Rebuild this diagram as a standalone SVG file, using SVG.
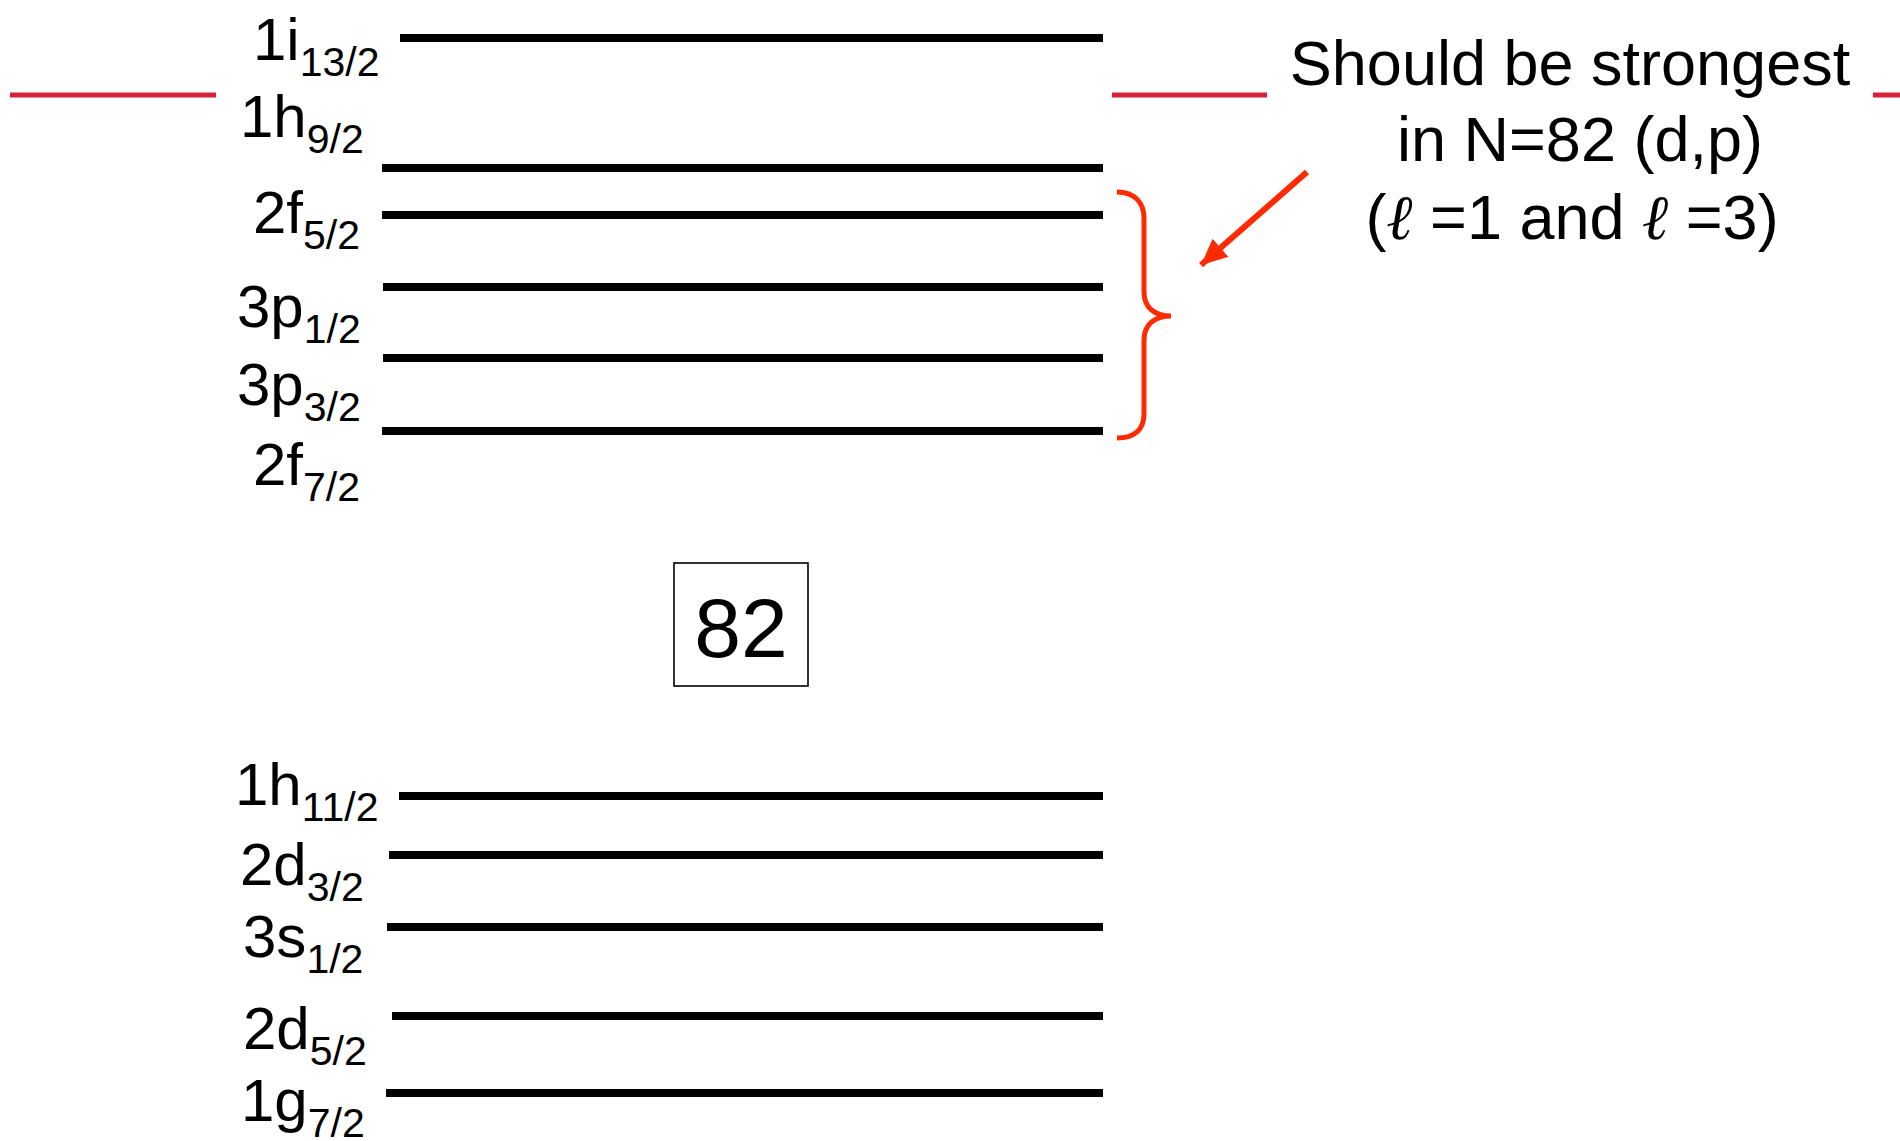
<svg xmlns="http://www.w3.org/2000/svg" width="1900" height="1141" viewBox="0 0 1900 1141">
<defs>
<style>
text{font-family:"Liberation Sans",Arial,sans-serif;fill:#000}
.lbl{font-size:60px}
.sub{font-size:41px}
.lvl{stroke:#000;stroke-width:8;fill:none}
.red{stroke:#d9203a;stroke-width:5;fill:none}
.note{font-size:63px;text-anchor:middle}
.ell{font-family:"Liberation Serif","DejaVu Serif",serif;font-style:italic}
</style>
<marker id="ah" markerUnits="userSpaceOnUse" markerWidth="30" markerHeight="26" refX="26" refY="12" orient="auto">
<path d="M0,0 L26,12 L0,24 Z" fill="#ff2a00"/>
</marker>
</defs>
<rect width="1900" height="1141" fill="#fff"/>
<g id="levels">
<g id="l-1i13"><line class="lvl" x1="400" y1="38" x2="1103" y2="38"/><text class="lbl" x="253" y="60">1i<tspan class="sub" dy="16">13/2</tspan></text></g>
<g id="l-1h9"><line class="lvl" x1="382" y1="168" x2="1103" y2="168"/><text class="lbl" x="240" y="137">1h<tspan class="sub" dy="16">9/2</tspan></text></g>
<g id="l-2f5"><line class="lvl" x1="382" y1="215" x2="1103" y2="215"/><text class="lbl" x="253" y="233">2f<tspan class="sub" dy="16">5/2</tspan></text></g>
<g id="l-3p1"><line class="lvl" x1="383" y1="287" x2="1103" y2="287"/><text class="lbl" x="237" y="327">3p<tspan class="sub" dy="16">1/2</tspan></text></g>
<g id="l-3p3"><line class="lvl" x1="383" y1="358" x2="1103" y2="358"/><text class="lbl" x="237" y="405">3p<tspan class="sub" dy="16">3/2</tspan></text></g>
<g id="l-2f7"><line class="lvl" x1="382" y1="431" x2="1103" y2="431"/><text class="lbl" x="253" y="485">2f<tspan class="sub" dy="16">7/2</tspan></text></g>
<g id="l-1h11"><line class="lvl" x1="399" y1="796" x2="1103" y2="796"/><text class="lbl" x="235" y="805">1h<tspan class="sub" dy="16">11/2</tspan></text></g>
<g id="l-2d3"><line class="lvl" x1="389" y1="855" x2="1103" y2="855"/><text class="lbl" x="240" y="885">2d<tspan class="sub" dy="16">3/2</tspan></text></g>
<g id="l-3s1"><line class="lvl" x1="387" y1="927" x2="1103" y2="927"/><text class="lbl" x="243" y="957">3s<tspan class="sub" dy="16">1/2</tspan></text></g>
<g id="l-2d5"><line class="lvl" x1="392" y1="1016" x2="1103" y2="1016"/><text class="lbl" x="243" y="1049">2d<tspan class="sub" dy="16">5/2</tspan></text></g>
<g id="l-1g7"><line class="lvl" x1="386" y1="1093" x2="1103" y2="1093"/><text class="lbl" x="241" y="1121">1g<tspan class="sub" dy="16">7/2</tspan></text></g>
</g>
<g id="gap82">
<rect x="674" y="563" width="134" height="123" fill="none" stroke="#000" stroke-width="1.6"/>
<text x="741" y="657" font-size="84" text-anchor="middle">82</text>
</g>
<g id="redlines">
<line class="red" x1="10" y1="95" x2="216" y2="95"/>
<line class="red" x1="1112" y1="95" x2="1267" y2="95"/>
<line class="red" x1="1873" y1="95" x2="1900" y2="95"/>
</g>
<g id="note">
<text class="note" x="1570" y="85">Should be strongest</text>
<text class="note" x="1580" y="161">in N=82 (d,p)</text>
<text class="note" x="1572" y="239">(<tspan class="ell">ℓ</tspan> =1 and <tspan class="ell">ℓ</tspan> =3)</text>
</g>
<g id="connectors">
<path d="M1117,192 C1135,192 1144,203 1144,218 L1144,292 C1144,307 1154,316 1171,316 C1154,316 1144,325 1144,340 L1144,414 C1144,429 1135,438 1117,438" fill="none" stroke="#ff2a00" stroke-width="5"/>
<line x1="1307" y1="172" x2="1201" y2="265" stroke="#ff2a00" stroke-width="6" marker-end="url(#ah)"/>
</g>
</svg>
